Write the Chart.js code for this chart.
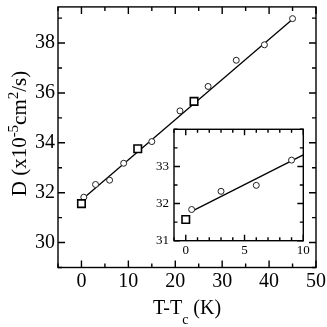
<!DOCTYPE html>
<html>
<head>
<meta charset="utf-8">
<script src="https://cdn.jsdelivr.net/npm/chart.js@4"></script>
<style>
  html, body { margin: 0; padding: 0; background: #fff; }
  #wrap { position: relative; width: 327px; height: 327px; }
  #main { position: absolute; left: 0; top: 0; }
  #inset { position: absolute; left: 150px; top: 122px; }
</style>
</head>
<body>
<div id="wrap">
  <canvas id="main" width="327" height="327"></canvas>
  <canvas id="inset" width="165" height="140"></canvas>
</div>
<script>
// main panel data (T - Tc in K, D in 1e-5 cm^2/s)
const circleT = [0.5, 3, 6, 9, 15, 21, 27, 33, 39, 45];
const circleD = [31.82, 32.33, 32.5, 33.18, 34.05, 35.28, 36.26, 37.31, 37.93, 38.98];
const squareT = [0, 12, 24];
const squareD = [31.56, 33.76, 35.66];
const fitT = [0.5, 45];
const fitD = [31.79, 38.95];

// inset data
const insetCircleT = [0.5, 3, 6, 9];
const insetCircleD = [31.84, 32.33, 32.49, 33.17];
const insetSquareT = [0];
const insetSquareD = [31.57];
const insetFitT = [0.5, 10];
const insetFitD = [31.79, 33.31];

// tick labels
const xTicks = [0, 10, 20, 30, 40, 50];
const xMinor = [-5, 5, 15, 25, 35, 45];
const yTicks = [30, 32, 34, 36, 38];
const yMinor = [29, 31, 33, 35, 37, 39];
const insetXTicks = [0, 5, 10];
const insetXMinor = [-1, 1, 2, 3, 4, 6, 7, 8, 9];
const insetYTicks = [31, 32, 33];
const insetYMinor = [31.5, 32.5, 33.5, 34];

const FONT = '"Liberation Serif"';
const pts = (xs, ys) => xs.map((v, i) => ({ x: v, y: ys[i] }));

// frame box + inward ticks on all four sides
const frameTicks = {
  id: 'frameTicks',
  beforeDraw(chart, args, opts) {
    const { ctx, chartArea: a } = chart;
    if (opts.fill) {
      ctx.save();
      ctx.fillStyle = '#fff';
      ctx.fillRect(a.left, a.top, a.right - a.left, a.bottom - a.top);
      ctx.restore();
    }
  },
  afterDraw(chart, args, opts) {
    const { ctx, chartArea: a, scales: { x, y } } = chart;
    ctx.save();
    ctx.strokeStyle = '#000';
    ctx.lineWidth = opts.lineWidth;
    ctx.beginPath();
    const xt = (vals, len) => vals.forEach(v => {
      const p = x.getPixelForValue(v);
      ctx.moveTo(p, a.bottom); ctx.lineTo(p, a.bottom - len);
      ctx.moveTo(p, a.top); ctx.lineTo(p, a.top + len);
    });
    const yt = (vals, len) => vals.forEach(v => {
      const p = y.getPixelForValue(v);
      ctx.moveTo(a.left, p); ctx.lineTo(a.left + len, p);
      ctx.moveTo(a.right, p); ctx.lineTo(a.right - len, p);
    });
    xt(opts.xMajor, opts.major); xt(opts.xMinor, opts.minor);
    yt(opts.yMajor, opts.major); yt(opts.yMinor, opts.minor);
    ctx.stroke();
    ctx.strokeRect(a.left, a.top, a.right - a.left, a.bottom - a.top);
    ctx.restore();
  }
};

function drawRich(ctx, parts, cx, y) {
  let total = 0;
  parts.forEach(p => {
    ctx.font = p.size + 'px ' + FONT;
    p.w = ctx.measureText(p.t).width;
    total += p.w;
  });
  let x = cx - total / 2;
  parts.forEach(p => {
    ctx.font = p.size + 'px ' + FONT;
    ctx.fillText(p.t, x, y + p.dy);
    x += p.w;
  });
}

// axis titles with sub/superscripts
const axisTitles = {
  id: 'axisTitles',
  afterDraw(chart) {
    const ctx = chart.ctx;
    ctx.save();
    ctx.fillStyle = '#000';
    ctx.textBaseline = 'alphabetic';
    drawRich(ctx, [
      { t: 'T-T', size: 20, dy: 0 },
      { t: 'c', size: 14, dy: 10 },
      { t: ' (K)', size: 20, dy: 0 }
    ], 187, 314);
    ctx.translate(26, 133.5);
    ctx.rotate(-Math.PI / 2);
    drawRich(ctx, [
      { t: 'D (x10', size: 21, dy: 0 },
      { t: '-5', size: 15, dy: -8 },
      { t: 'cm', size: 21, dy: 0 },
      { t: '2', size: 15, dy: -8 },
      { t: '/s)', size: 21, dy: 0 }
    ], 0, 0);
    ctx.restore();
  }
};

function makeScales(o) {
  return {
    x: {
      type: 'linear', min: o.xMin, max: o.xMax,
      grid: { display: false, drawTicks: false },
      border: { display: false },
      ticks: { font: { family: FONT, size: o.fontSize }, color: '#000', padding: o.xPad, maxRotation: 0, autoSkip: false },
      afterBuildTicks: s => { s.ticks = o.xTicks.map(v => ({ value: v })); },
      afterFit: s => { s.height = o.xHeight; s.paddingLeft = 0; s.paddingRight = 0; }
    },
    y: {
      type: 'linear', min: o.yMin, max: o.yMax,
      grid: { display: false, drawTicks: false },
      border: { display: false },
      ticks: { font: { family: FONT, size: o.fontSize }, color: '#000', padding: o.yPad, autoSkip: false },
      afterBuildTicks: s => { s.ticks = o.yTicks.map(v => ({ value: v })); },
      afterFit: s => { s.width = o.yWidth; s.paddingTop = 0; s.paddingBottom = 0; }
    }
  };
}

function makeDatasets(cT, cD, sT, sD, fT, fD) {
  return [
    { data: pts(cT, cD), pointStyle: 'circle', pointRadius: 3, borderWidth: 1,
      borderColor: '#222', backgroundColor: '#fff', order: 1 },
    { data: pts(sT, sD), pointStyle: 'rect', pointRadius: 5.3, borderWidth: 1.6,
      borderColor: '#000', backgroundColor: '#fff', order: 0 },
    { type: 'line', data: pts(fT, fD), showLine: true, pointRadius: 0,
      borderColor: '#000', borderWidth: 1.3, fill: false, order: 2 }
  ];
}

new Chart(document.getElementById('main'), {
  type: 'scatter',
  data: { datasets: makeDatasets(circleT, circleD, squareT, squareD, fitT, fitD) },
  options: {
    responsive: false,
    animation: false,
    devicePixelRatio: 1,
    layout: { padding: { left: 0, right: 11, top: 2, bottom: 0 } },
    plugins: {
      legend: { display: false },
      tooltip: { enabled: false },
      frameTicks: { xMajor: xTicks, xMinor: xMinor, yMajor: yTicks, yMinor: yMinor, major: 7, minor: 4, lineWidth: 1.4 }
    },
    scales: makeScales({
      xMin: -5, xMax: 50, yMin: 29, yMax: 39.45, xTicks: xTicks, yTicks: yTicks,
      fontSize: 20, xPad: 2, yPad: 3, xHeight: 59.5, yWidth: 58
    })
  },
  plugins: [frameTicks, axisTitles]
});

new Chart(document.getElementById('inset'), {
  type: 'scatter',
  data: { datasets: makeDatasets(insetCircleT, insetCircleD, insetSquareT, insetSquareD, insetFitT, insetFitD) },
  options: {
    responsive: false,
    animation: false,
    devicePixelRatio: 1,
    layout: { padding: { left: 0, right: 11.7, top: 7.3, bottom: 0 } },
    plugins: {
      legend: { display: false },
      tooltip: { enabled: false },
      frameTicks: { xMajor: insetXTicks, xMinor: insetXMinor, yMajor: insetYTicks, yMinor: insetYMinor, major: 6, minor: 3.5, lineWidth: 1.4, fill: true }
    },
    scales: makeScales({
      xMin: -1, xMax: 10, yMin: 31, yMax: 34, xTicks: insetXTicks, yTicks: insetYTicks,
      fontSize: 13, xPad: 2, yPad: 5, xHeight: 21.3, yWidth: 24
    })
  },
  plugins: [frameTicks]
});
</script>
</body>
</html>
